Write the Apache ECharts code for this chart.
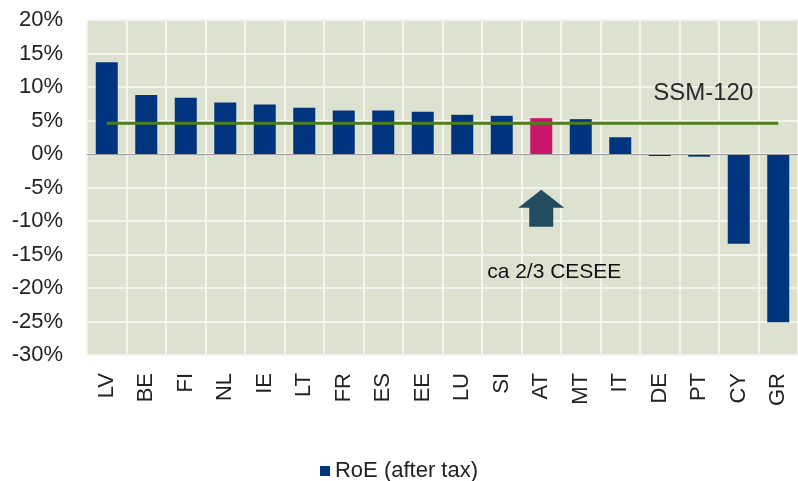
<!DOCTYPE html>
<html>
<head>
<meta charset="utf-8">
<script src="https://cdn.jsdelivr.net/npm/echarts@6/dist/echarts.min.js"></script>
<style>
html,body{margin:0;padding:0;background:#fff;}
#chart{width:798px;height:481px;}
</style>
</head>
<body>
<div id="chart"></div>
<script>
// ---- data ----
const categories = ['LV','BE','FI','NL','IE','LT','FR','ES','EE','LU','SI','AT','MT','IT','DE','PT','CY','GR'];
const roeValues  = [13.7, 8.8, 8.4, 7.7, 7.4, 6.9, 6.5, 6.5, 6.3, 5.85, 5.7, 5.35, 5.2, 2.5, -0.3, -0.4, -13.4, -25.1];
const ssmValue = 4.6;
const ssmLine = categories.map(() => ssmValue);
const highlightCategory = 'AT';
const yTicks = { min: -30, max: 20, interval: 5 };
const seriesName = 'RoE (after tax)';
const ssmLabel = 'SSM-120';
const cesseeLabel = 'ca 2/3 CESEE';
const ssmLabelPos = ['PT', 9.1];
const arrowPos = ['AT', -8.1];
const cesseeLabelPos = ['AT', -17.6];

// ---- chart ----
const font = "'Liberation Sans', Arial, sans-serif";
const navy = '#00347f';
const magenta = '#c8176b';
const chart = echarts.init(document.getElementById('chart'), null, {renderer: 'canvas'});

const barData = categories.map((c, i) => ({
  value: roeValues[i],
  itemStyle: c === highlightCategory ? { color: magenta } : undefined
}));

chart.setOption({
  animation: false,
  backgroundColor: '#ffffff',
  textStyle: { fontFamily: font },
  grid: {
    left: 87, top: 20, width: 720, height: 335,
    show: true, backgroundColor: '#dde1d0', borderWidth: 0
  },
  legend: {
    data: [{ name: seriesName, icon: 'rect' }],
    left: 'center', top: 455,
    itemWidth: 10, itemHeight: 10, itemGap: 6,
    textStyle: { fontSize: 22, color: '#222', fontFamily: font }
  },
  xAxis: {
    type: 'category',
    data: categories,
    boundaryGap: true,
    axisLine: { show: false, onZero: false },
    axisTick: { show: false },
    axisLabel: { rotate: 90, margin: 18, fontSize: 22, color: '#222', fontFamily: font, interval: 0 },
    splitLine: { show: true, lineStyle: { color: '#f3f4ee', width: 2 } }
  },
  yAxis: {
    type: 'value',
    min: yTicks.min, max: yTicks.max, interval: yTicks.interval,
    axisLine: { show: false },
    axisTick: { show: false },
    axisLabel: { formatter: '{value}%', fontSize: 22, color: '#222', margin: 24, fontFamily: font },
    splitLine: { show: true, lineStyle: { color: '#f3f4ee', width: 2 } }
  },
  series: [
    {
      name: seriesName,
      type: 'bar',
      data: barData,
      barWidth: 22,
      itemStyle: { color: navy },
      markLine: {
        silent: true, symbol: 'none',
        label: { show: false },
        lineStyle: { color: '#9a9a9a', width: 1, type: 'solid' },
        data: [{ yAxis: 0 }]
      },
      z: 2
    },
    {
      name: 'SSM',
      type: 'line',
      data: ssmLine,
      symbol: 'none',
      lineStyle: { color: '#4e7d1e', width: 3 },
      z: 3
    },
    {
      name: 'annotations',
      type: 'scatter',
      z: 4,
      silent: true,
      itemStyle: { opacity: 1 },
      data: [
        {
          value: ssmLabelPos, symbolSize: 0,
          label: { show: true, formatter: ssmLabel, position: 'inside', offset: [4, 0], fontSize: 24, color: '#2a2a2a', fontFamily: font }
        },
        {
          value: arrowPos,
          symbol: 'path://M23,0 L46,18 L35,18 L35,37 L11,37 L11,18 L0,18 Z',
          symbolSize: [46, 37],
          itemStyle: { color: '#234d5e', opacity: 1 }
        },
        {
          value: cesseeLabelPos, symbolSize: 0,
          label: { show: true, formatter: cesseeLabel, position: 'inside', offset: [13, 0], fontSize: 21, color: '#111', fontFamily: font }
        }
      ]
    }
  ]
});
</script>
</body>
</html>
